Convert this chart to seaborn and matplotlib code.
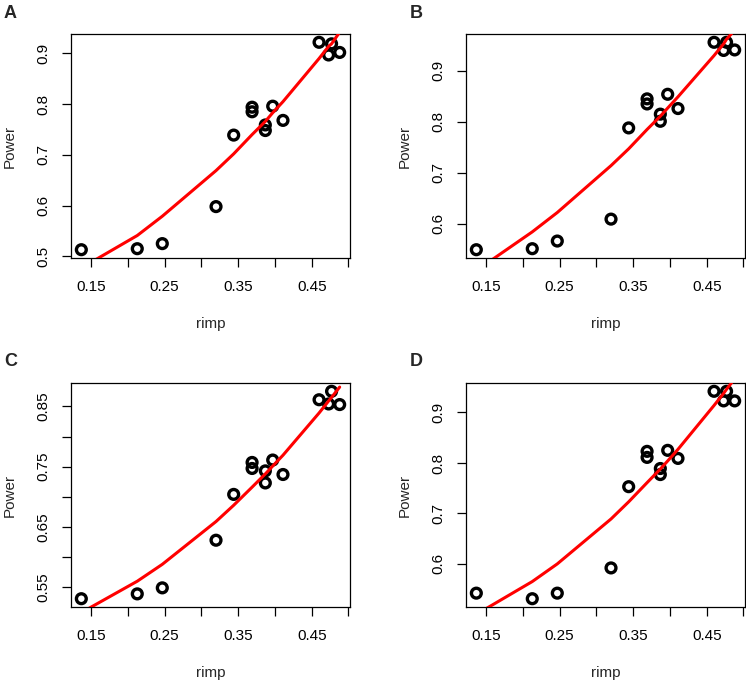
import numpy as np
import pandas as pd
import matplotlib
matplotlib.use("Agg")
import matplotlib.pyplot as plt
import seaborn as sns

# x values of the points (two pairs share the same rimp)
rimp = [0.137, 0.213, 0.247, 0.320, 0.344, 0.369, 0.369, 0.387, 0.387,
        0.397, 0.411, 0.460, 0.473, 0.477, 0.488]
power_a = [0.513, 0.515, 0.525, 0.598, 0.739, 0.794, 0.785, 0.759, 0.748,
           0.796, 0.768, 0.922, 0.897, 0.919, 0.902]
power_b = [0.549, 0.551, 0.566, 0.609, 0.788, 0.845, 0.835, 0.815, 0.801,
           0.854, 0.826, 0.956, 0.940, 0.956, 0.941]
power_c = [0.531, 0.539, 0.549, 0.628, 0.704, 0.757, 0.747, 0.743, 0.723,
           0.761, 0.737, 0.861, 0.854, 0.875, 0.853]
power_d = [0.542, 0.531, 0.542, 0.592, 0.753, 0.823, 0.811, 0.789, 0.777,
           0.825, 0.809, 0.942, 0.923, 0.942, 0.923]

# fitted curve (red line), read at the distinct rimp values
fit_x = [0.137, 0.213, 0.247, 0.320, 0.344, 0.369, 0.387, 0.397, 0.411,
         0.460, 0.473, 0.477, 0.488]
fit_a = [0.477, 0.541, 0.579, 0.669, 0.702, 0.740, 0.766, 0.783, 0.805,
         0.890, 0.914, 0.919, 0.942]
fit_b = [0.508, 0.584, 0.622, 0.714, 0.747, 0.785, 0.811, 0.827, 0.849,
         0.930, 0.953, 0.962, 0.980]
fit_c = [0.508, 0.560, 0.588, 0.659, 0.686, 0.716, 0.738, 0.751, 0.769,
         0.839, 0.859, 0.865, 0.882]
fit_d = [0.500, 0.565, 0.600, 0.689, 0.723, 0.761, 0.788, 0.804, 0.827,
         0.914, 0.938, 0.946, 0.967]

x_ticks = [0.15, 0.20, 0.25, 0.30, 0.35, 0.40, 0.45, 0.50]
x_labels = ["0.15", "", "0.25", "", "0.35", "", "0.45", ""]
y_ticks_a = [0.5, 0.6, 0.7, 0.8, 0.9]
y_labels_a = ["0.5", "0.6", "0.7", "0.8", "0.9"]
y_ticks_b = [0.6, 0.7, 0.8, 0.9]
y_labels_b = ["0.6", "0.7", "0.8", "0.9"]
y_ticks_c = [0.55, 0.60, 0.65, 0.70, 0.75, 0.80, 0.85]
y_labels_c = ["0.55", "", "0.65", "", "0.75", "", "0.85"]
y_ticks_d = [0.6, 0.7, 0.8, 0.9]
y_labels_d = ["0.6", "0.7", "0.8", "0.9"]

sns.set_style("white")
plt.rcParams["font.family"] = ["Liberation Sans", "DejaVu Sans"]
plt.rcParams.update({
    "axes.edgecolor": "black",
    "axes.linewidth": 0.9,
    "xtick.bottom": True,
    "ytick.left": True,
    "xtick.direction": "out",
    "ytick.direction": "out",
    "xtick.major.size": 6.5,
    "ytick.major.size": 6.5,
    "xtick.major.width": 0.9,
    "ytick.major.width": 0.9,
    "xtick.color": "black",
    "ytick.color": "black",
    "xtick.labelsize": 11,
    "ytick.labelsize": 11,
    "axes.labelsize": 11,
})

W, H = 746, 681
fig = plt.figure(figsize=(W / 100, H / 100), dpi=100)

# letter, values, fit, y ticks, y labels, box left/top (px), letter x (px)
panels = [
    ("A", power_a, fit_a, y_ticks_a, y_labels_a, 71, 34, 4),
    ("B", power_b, fit_b, y_ticks_b, y_labels_b, 466, 34, 410),
    ("C", power_c, fit_c, y_ticks_c, y_labels_c, 71, 383, 4),
    ("D", power_d, fit_d, y_ticks_d, y_labels_d, 466, 383, 410),
]
box_w, box_h = 279, 224


def r_range(v):
    # R's default 4% axis expansion
    lo, hi = min(v), max(v)
    pad = (hi - lo) * 0.04
    return lo - pad, hi + pad


for letter, pw, fit, yt, yl, px, py, lx in panels:
    ax = fig.add_axes([px / W, 1 - (py + box_h) / H, box_w / W, box_h / H])
    df = pd.DataFrame({"rimp": rimp, "Power": pw})
    sns.scatterplot(data=df, x="rimp", y="Power", ax=ax, marker="o", s=50,
                    facecolors="none", edgecolors="black", linewidth=2.4,
                    zorder=2, clip_on=False)
    sns.lineplot(x=fit_x, y=fit, ax=ax, color="red", linewidth=2.2,
                 errorbar=None, zorder=3)
    ax.set_xlim(*r_range(rimp))
    ax.set_ylim(*r_range(pw))
    ax.set_xticks(x_ticks)
    ax.set_xticklabels(x_labels)
    ax.set_yticks(yt)
    ax.set_yticklabels(yl, rotation=90, va="center")
    ax.tick_params(axis="x", pad=9)
    ax.tick_params(axis="y", pad=8)
    ax.set_xlabel("rimp")
    ax.set_ylabel("Power")
    ax.xaxis.set_label_coords(0.5, -0.265)
    ax.yaxis.set_label_coords(-0.195, 0.5)
    for sp in ax.spines.values():
        sp.set_visible(True)
        sp.set_color("black")
    fig.text(lx / W, 1 - (py - 21) / H, letter, fontsize=13,
             fontweight="bold", ha="left", va="center")

fig.savefig("out.png", dpi=100)
